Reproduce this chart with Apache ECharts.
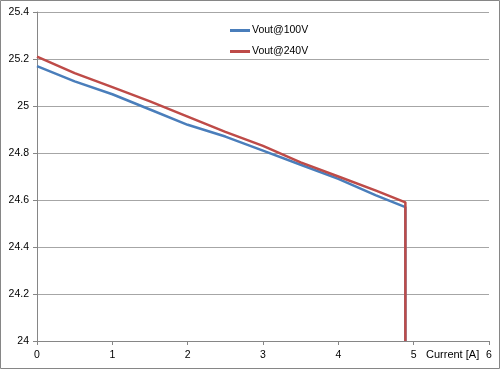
<!DOCTYPE html>
<html>
<head>
<meta charset="utf-8">
<script src="https://cdn.jsdelivr.net/npm/echarts@6/dist/echarts.min.js"></script>
<style>
html,body{margin:0;padding:0;background:#fff;}
#chart{width:500px;height:369px;}
</style>
</head>
<body>
<div id="chart"></div>
<script>
var currentA = [0, 0.5, 1, 1.5, 2, 2.5, 3, 3.5, 4, 4.5, 4.89, 4.89];
var vout100 = [25.17, 25.105, 25.05, 24.985, 24.92, 24.87, 24.81, 24.75, 24.69, 24.62, 24.57, 24.0];
var vout240 = [25.21, 25.14, 25.08, 25.02, 24.955, 24.89, 24.83, 24.76, 24.70, 24.64, 24.59, 24.0];
var seriesNames = ['Vout@100V', 'Vout@240V'];
var xAxisTitle = 'Current [A]';

function pairs(xs, ys) { return xs.map(function (x, i) { return [x, ys[i]]; }); }

var FONT = 'Liberation Sans';
var chart = echarts.init(document.getElementById('chart'), null, {renderer: 'canvas'});
chart.setOption({
  animation: false,
  backgroundColor: '#fff',
  textStyle: {fontFamily: FONT},
  grid: {left: 37, right: 11, top: 12, bottom: 28, containLabel: false},
  legend: {
    orient: 'vertical', left: 230, top: 25, padding: 0, itemWidth: 20, itemHeight: 3, itemGap: 10,
    icon: 'rect',
    textStyle: {fontSize: 10.5, color: '#000', fontFamily: FONT, padding: [0, 0, 0, -3]},
    data: seriesNames
  },
  xAxis: {
    type: 'value', min: 0, max: 6, interval: 1,
    axisLine: {show: true, lineStyle: {color: '#868686', width: 1}},
    axisTick: {show: true, length: 4, lineStyle: {color: '#868686'}},
    axisLabel: {color: '#000', fontSize: 10.5, margin: 9, fontFamily: FONT},
    splitLine: {show: false}
  },
  yAxis: {
    type: 'value', min: 24, max: 25.4, interval: 0.2,
    axisLine: {show: true, lineStyle: {color: '#868686', width: 1}},
    axisTick: {show: true, length: 4, lineStyle: {color: '#868686'}},
    axisLabel: {color: '#000', fontSize: 10.5, margin: 8, fontFamily: FONT},
    splitLine: {show: true, lineStyle: {color: '#a6a6a6', width: 1}}
  },
  graphic: [
    {type: 'rect', shape: {x: 0.5, y: 0.5, width: 499, height: 368}, style: {fill: 'none', stroke: '#868686', lineWidth: 1}, silent: true},
    {type: 'text', left: 426, top: 349, style: {text: xAxisTitle, fill: '#000', font: '11px "Liberation Sans"'}}
  ],
  series: [
    {name: seriesNames[0], type: 'line', data: pairs(currentA, vout100), showSymbol: false, symbol: 'none',
     lineStyle: {color: '#4a7ebb', width: 2.5}, itemStyle: {color: '#4a7ebb'}},
    {name: seriesNames[1], type: 'line', data: pairs(currentA, vout240), showSymbol: false, symbol: 'none',
     lineStyle: {color: '#be4b48', width: 2.5}, itemStyle: {color: '#be4b48'}}
  ]
});
</script>
</body>
</html>
